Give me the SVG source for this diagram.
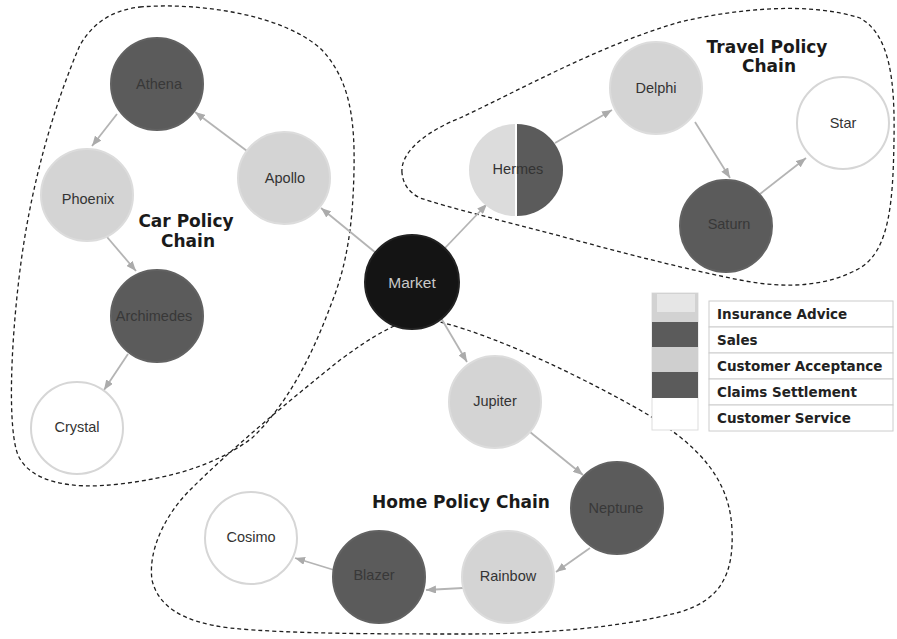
<svg xmlns="http://www.w3.org/2000/svg" width="897" height="639" viewBox="0 0 897 639">
  <defs>
    <marker id="arrow" viewBox="0 0 10 8" refX="10" refY="4" markerWidth="10" markerHeight="8" markerUnits="userSpaceOnUse" orient="auto">
      <path d="M0,0 L10,4 L0,8 Z" fill="#ababab"/>
    </marker>
    <style>
      .bg { fill: #ffffff; }
      .region { fill: none; stroke: #1e1e1e; stroke-width: 1.3; stroke-dasharray: 4 3; }
      .edge { stroke: #b4b4b4; stroke-width: 1.8; fill: none; marker-end: url(#arrow); }
      .light { fill: #d4d4d4; stroke: #dcdcdc; stroke-width: 2; }
      .dark { fill: #5b5b5b; stroke: #626262; stroke-width: 2; }
      .white { fill: #ffffff; stroke: #d6d6d6; stroke-width: 2; }
      .market { fill: #141414; stroke: #222; stroke-width: 2; }
      .lbl { font-family: "Liberation Sans", Arial, sans-serif; font-size: 14.5px; fill: #333; text-anchor: middle; }
      .lbl-dark { fill: #383838; }
      .lbl-market { fill: #c8c8c8; font-size: 15.5px; }
      .chain { font-family: "DejaVu Sans", Verdana, sans-serif; font-weight: bold; font-size: 17px; fill: #1a1a1a; text-anchor: middle; }
      .legend-text { font-family: "DejaVu Sans", Verdana, sans-serif; font-weight: bold; font-size: 13.5px; fill: #222; }
      .legend-row { fill: #ffffff; stroke: #cccccc; stroke-width: 1; }
    </style>
  </defs>

  <rect class="bg" x="0" y="0" width="897" height="639"/>

  <!-- policy chain regions -->
  <g id="regions">
    <path id="car-region" class="region" d="M 140,7 C 200,2 285,15 322,50 C 350,80 355,120 354,170 C 353,220 348,262 332,302 C 316,345 292,400 252,438 C 215,466 170,478 120,484 C 70,490 30,482 18,455 C 8,430 10,350 20,270 C 30,190 52,110 80,45 C 95,20 115,10 140,7 Z"/>
    <path id="travel-region" class="region" d="M 402,173 C 400,150 430,130 460,118 C 520,90 600,45 680,22 C 740,8 810,2 860,18 C 890,35 895,80 894,140 C 893,200 890,250 860,268 C 830,285 790,290 740,280 C 680,268 620,252 560,236 C 500,220 450,208 420,198 C 408,192 403,183 402,173 Z"/>
    <path id="home-region" class="region" d="M 420,318 C 470,325 560,365 640,410 C 700,445 730,480 732,530 C 734,575 720,600 680,612 C 620,628 540,634 470,634 C 380,634 290,634 230,628 C 180,622 158,605 152,580 C 148,550 165,515 190,490 C 230,450 290,400 340,360 C 370,338 395,322 420,318 Z"/>
  </g>

  <!-- chain titles -->
  <g id="titles">
    <text class="chain" x="186" y="227">Car Policy</text>
    <text class="chain" x="188" y="247">Chain</text>
    <text class="chain" x="767" y="53">Travel Policy</text>
    <text class="chain" x="769" y="72">Chain</text>
    <text class="chain" x="461" y="508">Home Policy Chain</text>
  </g>

  <!-- connectors -->
  <g id="connectors">
    <line class="edge" x1="376" y1="253" x2="321" y2="208"/>
    <line class="edge" x1="247" y1="151" x2="195" y2="112"/>
    <line class="edge" x1="117" y1="114" x2="92" y2="146"/>
    <line class="edge" x1="107" y1="237" x2="136" y2="271"/>
    <line class="edge" x1="128" y1="354" x2="104" y2="390"/>
    <line class="edge" x1="445" y1="248" x2="487" y2="204"/>
    <line class="edge" x1="555" y1="143" x2="612" y2="110"/>
    <line class="edge" x1="695" y1="122" x2="730" y2="178"/>
    <line class="edge" x1="760" y1="194" x2="806" y2="158"/>
    <line class="edge" x1="441" y1="318" x2="467" y2="362"/>
    <line class="edge" x1="530" y1="432" x2="583" y2="475"/>
    <line class="edge" x1="590" y1="548" x2="556" y2="572"/>
    <line class="edge" x1="463" y1="588" x2="426" y2="590"/>
    <line class="edge" x1="334" y1="570" x2="295" y2="558"/>
  </g>

  <!-- car policy chain -->
  <g id="athena">
    <circle class="dark" cx="157" cy="84" r="46"/>
    <text class="lbl lbl-dark" x="159" y="89">Athena</text>
  </g>
  <g id="apollo">
    <circle class="light" cx="284" cy="178" r="46"/>
    <text class="lbl" x="285" y="183">Apollo</text>
  </g>
  <g id="phoenix">
    <circle class="light" cx="87" cy="195" r="46"/>
    <text class="lbl" x="88" y="204">Phoenix</text>
  </g>
  <g id="archimedes">
    <circle class="dark" cx="157" cy="316" r="46"/>
    <text class="lbl lbl-dark" x="154" y="321">Archimedes</text>
  </g>
  <g id="crystal">
    <circle class="white" cx="77" cy="428" r="46"/>
    <text class="lbl" x="77" y="432">Crystal</text>
  </g>

  <!-- hub -->
  <g id="market">
    <circle class="market" cx="412" cy="282" r="47"/>
    <text class="lbl lbl-market" x="412" y="288">Market</text>
  </g>

  <!-- travel policy chain -->
  <g id="hermes">
    <path d="M 515,124 A 46,46 0 0 0 515,216 Z" fill="#dcdcdc"/>
    <path d="M 517,124 A 46,46 0 0 1 517,216 Z" fill="#5b5b5b"/>
    <text class="lbl" x="518" y="174">Hermes</text>
  </g>
  <g id="delphi">
    <circle class="light" cx="656" cy="88" r="46"/>
    <text class="lbl" x="656" y="93">Delphi</text>
  </g>
  <g id="star">
    <circle class="white" cx="843" cy="123" r="46"/>
    <text class="lbl" x="843" y="128">Star</text>
  </g>
  <g id="saturn">
    <circle class="dark" cx="726" cy="226" r="46"/>
    <text class="lbl lbl-dark" x="729" y="229">Saturn</text>
  </g>

  <!-- home policy chain -->
  <g id="jupiter">
    <circle class="light" cx="495" cy="402" r="46"/>
    <text class="lbl" x="495" y="406">Jupiter</text>
  </g>
  <g id="neptune">
    <circle class="dark" cx="617" cy="508" r="46"/>
    <text class="lbl lbl-dark" x="616" y="513">Neptune</text>
  </g>
  <g id="rainbow">
    <circle class="light" cx="508" cy="577" r="46"/>
    <text class="lbl" x="508" y="581">Rainbow</text>
  </g>
  <g id="blazer">
    <circle class="dark" cx="379" cy="577" r="46"/>
    <text class="lbl lbl-dark" x="374" y="580">Blazer</text>
  </g>
  <g id="cosimo">
    <circle class="white" cx="251" cy="538" r="46"/>
    <text class="lbl" x="251" y="542">Cosimo</text>
  </g>

  <!-- legend -->
  <g id="legend">
    <rect x="652" y="293" width="46" height="137" fill="#ffffff" stroke="#dddddd"/>
    <rect x="652" y="293" width="46" height="29" fill="#d2d2d2"/>
    <rect x="657" y="294" width="38" height="18" fill="#e6e6e6"/>
    <rect x="652" y="322" width="46" height="25" fill="#5b5b5b"/>
    <rect x="652" y="347" width="46" height="25" fill="#cfcfcf"/>
    <rect x="652" y="372" width="46" height="26" fill="#5b5b5b"/>
    <rect class="legend-row" x="709" y="301" width="184" height="26"/>
    <rect class="legend-row" x="709" y="327" width="184" height="26"/>
    <rect class="legend-row" x="709" y="353" width="184" height="26"/>
    <rect class="legend-row" x="709" y="379" width="184" height="26"/>
    <rect class="legend-row" x="709" y="405" width="184" height="26"/>
    <text class="legend-text" x="717" y="319">Insurance Advice</text>
    <text class="legend-text" x="717" y="345">Sales</text>
    <text class="legend-text" x="717" y="371">Customer Acceptance</text>
    <text class="legend-text" x="717" y="397">Claims Settlement</text>
    <text class="legend-text" x="717" y="423">Customer Service</text>
  </g>
</svg>
